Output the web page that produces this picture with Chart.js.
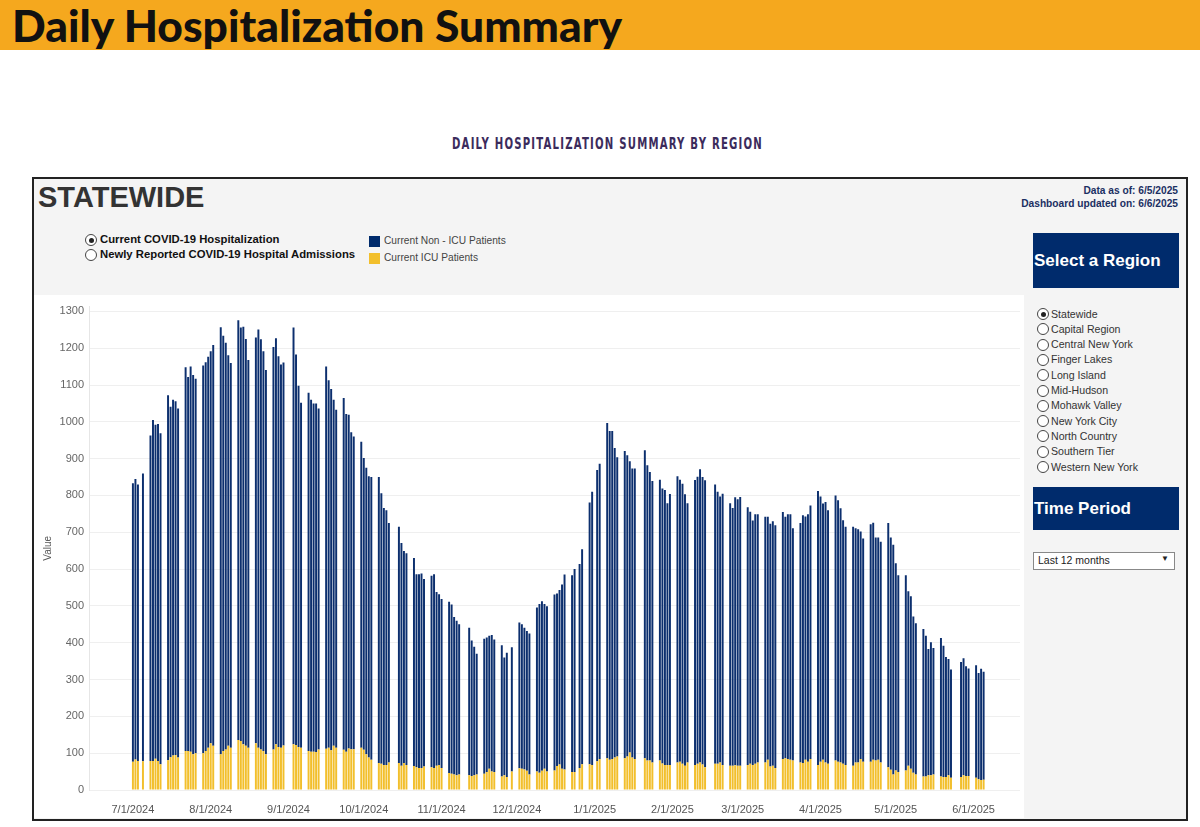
<!DOCTYPE html>
<html>
<head>
<meta charset="utf-8">
<script src="https://cdn.jsdelivr.net/npm/chart.js@4.4.0/dist/chart.umd.min.js"></script>
<style>
  html, body { margin:0; padding:0; background:#ffffff; }
  body { width:1200px; height:827px; position:relative; overflow:hidden; font-family:"Liberation Sans", Arial, sans-serif; }
  .abs { position:absolute; }
  #hdr { left:0; top:0; width:1200px; height:50px; background:#f5a81e; }
  #hdrText { left:12px; top:0px; font-family:Lato, "Open Sans", sans-serif; font-weight:900; font-size:44px; color:#111; line-height:50px; white-space:nowrap; transform-origin:0 50%; }
  #sub { left:0; top:135px; white-space:nowrap; font-family:"DejaVu Sans Condensed","Liberation Sans",sans-serif; font-weight:700; font-size:15px; letter-spacing:1.6px; color:#3b2b5c; transform-origin:0 50%; }
  #box { left:32px; top:177px; width:1152px; height:640px; border:2px solid #222; background:#f4f4f4; }
  #state { left:38px; top:181px; font-weight:700; font-size:29px; color:#333; }
  #asof { right:22px; top:184px; text-align:right; font-weight:700; font-size:10.2px; line-height:13px; color:#1b2f62; }
  .radio { width:10px; height:10px; border:1px solid #444; border-radius:50%; background:#fff; }
  .radio.on::after { content:''; position:absolute; left:2.5px; top:2.5px; width:5px; height:5px; border-radius:50%; background:#222; }
  .rlab { font-size:11.3px; font-weight:700; color:#111; white-space:nowrap; }
  .leg { width:11px; height:11px; }
  .llab { font-size:10.2px; color:#444; white-space:nowrap; }
  #chartPanel { left:34px; top:295px; width:990px; height:523px; background:#fff; }
  .navbox { left:1033px; width:145px; background:#002b6c; color:#fff; font-weight:700; font-size:17px; white-space:nowrap; }
  .reg { font-size:10.6px; color:#333; white-space:nowrap; }
  #dd { left:1033px; top:552px; width:140px; height:16px; background:#fff; border:1px solid #888; font-size:10.5px; color:#222; }
</style>
</head>
<body>
<div id="hdr" class="abs"></div>
<div id="hdrText" class="abs">Daily Hospitalization Summary</div>
<div id="sub" class="abs">DAILY HOSPITALIZATION SUMMARY BY REGION</div>
<div id="box" class="abs"></div>
<div id="state" class="abs">STATEWIDE</div>
<div id="asof" class="abs">Data as of: 6/5/2025<br>Dashboard updated on: 6/6/2025</div>

<div class="abs radio on" style="left:85px;top:234px;"></div>
<div class="abs rlab" style="left:100px;top:233px;">Current COVID-19 Hospitalization</div>
<div class="abs radio" style="left:85px;top:249px;"></div>
<div class="abs rlab" style="left:100px;top:248px;">Newly Reported COVID-19 Hospital Admissions</div>

<div class="abs leg" style="left:369px;top:236px;background:#002b6c;"></div>
<div class="abs llab" style="left:384px;top:235px;">Current Non - ICU Patients</div>
<div class="abs leg" style="left:369px;top:253px;background:#f2bf2c;"></div>
<div class="abs llab" style="left:384px;top:252px;">Current ICU Patients</div>

<div id="chartPanel" class="abs"></div>
<canvas id="c" class="abs" style="left:35px;top:295px;" width="989" height="523"></canvas>

<div class="abs navbox" style="top:233px;height:55px;line-height:55px;padding-left:1px;">Select a Region</div>
<div id="regions"></div>
<div class="abs navbox" style="top:487px;height:43px;line-height:43px;padding-left:1px;">Time Period</div>
<div id="dd" class="abs"><span style="position:absolute;left:4px;top:1px;">Last 12 months</span><span style="position:absolute;right:5px;top:1px;font-size:8px;">&#9660;</span></div>

<script>
// ---- Data ----
const regionNames = ['Statewide','Capital Region','Central New York','Finger Lakes','Long Island','Mid-Hudson','Mohawk Valley','New York City','North Country','Southern Tier','Western New York'];

const tickLabels = ['7/1/2024','8/1/2024','9/1/2024','10/1/2024','11/1/2024','12/1/2024','1/1/2025','2/1/2025','3/1/2025','4/1/2025','5/1/2025','6/1/2025'];
const yTickValues = [0,100,200,300,400,500,600,700,800,900,1000,1100,1200,1300];

const reportDates = [
 '7/1/2024','7/2/2024','7/3/2024','7/5/2024',
 '7/8/2024','7/9/2024','7/10/2024','7/11/2024','7/12/2024',
 '7/15/2024','7/16/2024','7/17/2024','7/18/2024','7/19/2024',
 '7/22/2024','7/23/2024','7/24/2024','7/25/2024','7/26/2024',
 '7/29/2024','7/30/2024','7/31/2024','8/1/2024','8/2/2024',
 '8/5/2024','8/6/2024','8/7/2024','8/8/2024','8/9/2024',
 '8/12/2024','8/13/2024','8/14/2024','8/15/2024','8/16/2024',
 '8/19/2024','8/20/2024','8/21/2024','8/22/2024','8/23/2024',
 '8/26/2024','8/27/2024','8/28/2024','8/29/2024','8/30/2024',
 '9/3/2024','9/4/2024','9/5/2024','9/6/2024',
 '9/9/2024','9/10/2024','9/11/2024','9/12/2024','9/13/2024',
 '9/16/2024','9/17/2024','9/18/2024','9/19/2024','9/20/2024',
 '9/23/2024','9/24/2024','9/25/2024','9/26/2024','9/27/2024',
 '9/30/2024','10/1/2024','10/2/2024','10/3/2024','10/4/2024',
 '10/7/2024','10/8/2024','10/9/2024','10/10/2024','10/11/2024',
 '10/15/2024','10/16/2024','10/17/2024','10/18/2024',
 '10/21/2024','10/22/2024','10/23/2024','10/24/2024','10/25/2024',
 '10/28/2024','10/29/2024','10/30/2024','10/31/2024','11/1/2024',
 '11/4/2024','11/5/2024','11/6/2024','11/7/2024','11/8/2024',
 '11/12/2024','11/13/2024','11/14/2024','11/15/2024',
 '11/18/2024','11/19/2024','11/20/2024','11/21/2024','11/22/2024',
 '11/25/2024','11/26/2024','11/27/2024','11/29/2024',
 '12/2/2024','12/3/2024','12/4/2024','12/5/2024','12/6/2024',
 '12/9/2024','12/10/2024','12/11/2024','12/12/2024','12/13/2024',
 '12/16/2024','12/17/2024','12/18/2024','12/19/2024','12/20/2024',
 '12/23/2024','12/24/2024','12/26/2024','12/27/2024',
 '12/30/2024','12/31/2024','1/2/2025','1/3/2025',
 '1/6/2025','1/7/2025','1/8/2025','1/9/2025','1/10/2025',
 '1/13/2025','1/14/2025','1/15/2025','1/16/2025','1/17/2025',
 '1/21/2025','1/22/2025','1/23/2025','1/24/2025',
 '1/27/2025','1/28/2025','1/29/2025','1/30/2025','1/31/2025',
 '2/3/2025','2/4/2025','2/5/2025','2/6/2025','2/7/2025',
 '2/10/2025','2/11/2025','2/12/2025','2/13/2025','2/14/2025',
 '2/18/2025','2/19/2025','2/20/2025','2/21/2025',
 '2/24/2025','2/25/2025','2/26/2025','2/27/2025','2/28/2025',
 '3/3/2025','3/4/2025','3/5/2025','3/6/2025','3/7/2025',
 '3/10/2025','3/11/2025','3/12/2025','3/13/2025','3/14/2025',
 '3/17/2025','3/18/2025','3/19/2025','3/20/2025','3/21/2025',
 '3/24/2025','3/25/2025','3/26/2025','3/27/2025','3/28/2025',
 '3/31/2025','4/1/2025','4/2/2025','4/3/2025','4/4/2025',
 '4/7/2025','4/8/2025','4/9/2025','4/10/2025','4/11/2025',
 '4/14/2025','4/15/2025','4/16/2025','4/17/2025','4/18/2025',
 '4/21/2025','4/22/2025','4/23/2025','4/24/2025','4/25/2025',
 '4/28/2025','4/29/2025','4/30/2025','5/1/2025','5/2/2025',
 '5/5/2025','5/6/2025','5/7/2025','5/8/2025','5/9/2025',
 '5/12/2025','5/13/2025','5/14/2025','5/15/2025','5/16/2025',
 '5/19/2025','5/20/2025','5/21/2025','5/22/2025','5/23/2025',
 '5/27/2025','5/28/2025','5/29/2025','5/30/2025',
 '6/2/2025','6/3/2025','6/4/2025','6/5/2025'
];

const icuPatients = [
 77,83,79,78,
 79,79,85,79,70,
 81,89,94,95,88,
 106,106,104,97,100,
 100,106,115,127,120,
 97,106,110,120,115,
 136,133,124,120,115,
 127,115,110,106,97,
 110,124,117,115,121,
 124,122,117,115,
 106,104,104,103,110,
 112,115,108,120,115,
 109,104,113,111,111,
 115,109,97,88,82,
 73,71,68,68,75,
 73,66,73,68,
 65,62,60,60,64,
 62,60,66,68,60,
 46,44,42,40,42,
 40,38,40,42,
 44,49,58,50,49,
 37,40,35,50,
 59,58,56,52,42,
 50,47,52,58,50,
 53,65,69,58,56,
 49,49,60,70,
 70,68,78,84,
 86,82,84,88,91,
 86,91,102,88,84,
 86,80,80,75,
 80,72,68,68,68,
 75,77,71,66,75,
 68,71,75,69,62,
 71,71,75,68,
 66,66,67,66,66,
 68,71,68,71,75,
 75,82,64,66,60,
 84,86,84,82,80,
 75,73,82,77,84,
 68,77,82,75,71,
 80,77,75,71,68,
 66,75,75,84,77,
 77,82,80,82,75,
 62,55,42,53,49,
 53,66,58,47,42,
 37,37,40,40,42,
 37,35,35,40,33,
 35,40,38,38,
 33,29,27,28
];

const nonIcuPatients = [
 756,762,751,782,
 884,926,907,915,899,
 991,952,966,961,948,
 1042,1016,1046,1030,1017,
 1053,1056,1062,1065,1089,
 1160,1128,1105,1061,1045,
 1140,1123,1134,1105,1053,
 1102,1136,1114,1086,1044,
 1093,1103,1061,1041,1040,
 1132,1061,981,937,
 973,956,946,947,926,
 1038,998,981,940,918,
 956,917,906,861,849,
 831,793,778,764,768,
 777,735,698,692,650,
 642,605,576,575,
 565,524,526,528,509,
 520,526,472,464,459,
 465,460,428,420,408,
 401,368,349,328,
 367,365,361,371,360,
 356,320,338,338,
 396,392,385,380,383,
 446,458,461,447,449,
 478,469,474,500,529,
 534,551,554,584,
 711,742,791,802,
 911,893,891,841,813,
 835,818,791,785,789,
 837,802,784,764,
 763,747,747,711,736,
 777,766,761,737,704,
 774,780,796,781,779,
 759,739,722,737,
 713,700,728,724,730,
 700,685,664,678,674,
 667,660,659,664,659,
 671,656,665,667,631,
 650,673,661,672,689,
 744,720,696,707,689,
 720,710,690,662,647,
 649,636,633,618,606,
 645,644,606,604,599,
 663,631,624,563,534,
 530,474,468,424,411,
 400,382,343,361,344,
 376,357,326,316,294,
 313,318,298,292,
 306,289,302,293
];

// ---- Text fitting (layout only) ----
(function(){
  const h = document.getElementById('hdrText');
  const hw = h.getBoundingClientRect().width;
  h.style.transform = 'scaleX(' + (610/hw) + ')';
  const s = document.getElementById('sub');
  const sw = s.getBoundingClientRect().width;
  s.style.transform = 'scaleX(' + (311/sw) + ')';
  s.style.left = '452px';
})();

// ---- Region radio list ----
(function(){
  const host = document.getElementById('regions');
  regionNames.forEach((n,i)=>{
    const top = 308 + i*15.3;
    const r = document.createElement('div');
    r.className = 'abs radio' + (i===0?' on':'');
    r.style.left='1037px'; r.style.top = top+'px';
    const l = document.createElement('div');
    l.className='abs reg'; l.style.left='1051px'; l.style.top=(top-0.5)+'px';
    l.textContent = n;
    host.appendChild(r); host.appendChild(l);
  });
})();

// ---- Calendar-day categories for the axis ----
const axisDays = [];
(function(){
  const start = Date.UTC(2024,5,14);
  for (let i=0;i<371;i++){
    const d = new Date(start + i*86400000);
    axisDays.push((d.getUTCMonth()+1)+'/'+d.getUTCDate()+'/'+d.getUTCFullYear());
  }
})();
const idx = {}; reportDates.forEach((d,i)=>idx[d]=i);
const icuSeries = axisDays.map(d => d in idx ? icuPatients[idx[d]] : null);
const nonSeries = axisDays.map(d => d in idx ? nonIcuPatients[idx[d]] : null);

const NAVY = '#0c2f6e', YELLOW = '#f2bf2c';

new Chart(document.getElementById('c'), {
  type: 'bar',
  data: {
    labels: axisDays,
    datasets: [
      { label:'Current ICU Patients', data: icuSeries, backgroundColor: YELLOW, stack:'s', barPercentage:0.78, categoryPercentage:1.0 },
      { label:'Current Non - ICU Patients', data: nonSeries, backgroundColor: NAVY, stack:'s', barPercentage:0.78, categoryPercentage:1.0 }
    ]
  },
  options: {
    responsive:false, animation:false,
    layout:{ padding:{ top:4, right:4, left:0, bottom:0 } },
    plugins:{ legend:{display:false}, tooltip:{enabled:false} },
    scales:{
      x:{
        stacked:true,
        grid:{ display:false },
        border:{ display:false },
        afterFit: s => { s.height = 28; },
        ticks:{
          autoSkip:false, maxRotation:0, minRotation:0, padding:5,
          font:{ family:'Liberation Sans', size:11 }, color:'#555',
          callback: function(v){ const l = this.getLabelForValue(v); return tickLabels.includes(l) ? l : ''; }
        }
      },
      y:{
        stacked:true, min:0, max:1313,
        afterBuildTicks: s => { s.ticks = yTickValues.map(v => ({ value: v })); },
        afterFit: s => { s.width = 54; },
        ticks:{ padding:5, font:{ family:'Liberation Sans', size:11 }, color:'#666', callback: v => String(v) },
        grid:{ color:'#efefef', drawTicks:false },
        border:{ display:true, color:'#e6e6e6' },
        title:{ display:true, text:'Value', font:{ family:'Liberation Sans', size:10 }, color:'#555', padding:{top:7,bottom:0} }
      }
    }
  }
});
</script>
</body>
</html>
